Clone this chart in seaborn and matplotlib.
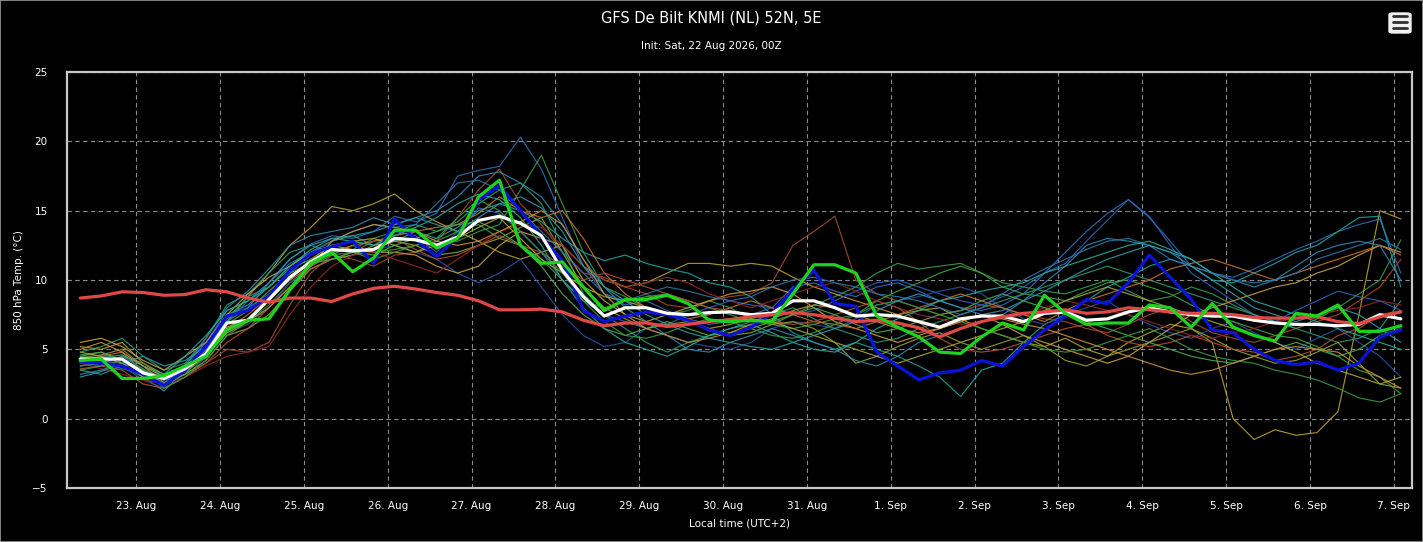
import numpy as np
import pandas as pd
import seaborn as sns
import matplotlib.dates as mdates
from matplotlib import pyplot as plt
from matplotlib.patches import FancyBboxPatch, Rectangle

# 6-hourly GFS ensemble, local time (UTC+2)
times = pd.date_range("2026-08-22 08:00", periods=64, freq="6h")

mean = [4.3, 4.3, 4.3, 3.3, 2.9, 3.6, 4.7, 6.9,
        7.1, 8.6, 10.2, 11.3, 12.2, 12.1, 12.2, 13.0,
        12.9, 12.5, 13.1, 14.3, 14.6, 14.1, 13.2, 10.7,
        8.8, 7.4, 8.0, 8.0, 7.6, 7.5, 7.65, 7.7,
        7.5, 7.6, 8.5, 8.5, 8.0, 7.4, 7.5, 7.4,
        7.0, 6.6, 7.2, 7.4, 7.4, 7.0, 7.6, 7.7,
        7.1, 7.2, 7.7, 8.0, 7.7, 7.5, 7.4, 7.4,
        7.1, 6.9, 6.8, 6.8, 6.7, 6.8, 7.5, 7.2]

control = [4.2, 4.3, 2.9, 2.9, 3.1, 3.8, 4.5, 6.4,
           7.1, 7.2, 9.3, 11.2, 12.0, 10.6, 11.6, 13.6,
           13.6, 12.3, 13.0, 16.0, 17.2, 12.5, 11.2, 11.3,
           9.5, 7.8, 8.6, 8.6, 8.9, 8.3, 7.1, 7.0,
           7.1, 7.0, 9.0, 11.1, 11.1, 10.5, 7.4, 6.6,
           5.9, 4.8, 4.7, 5.9, 6.9, 6.4, 8.9, 7.6,
           6.8, 6.9, 6.9, 8.2, 8.0, 6.6, 8.3, 6.6,
           6.0, 5.6, 7.6, 7.4, 8.2, 6.3, 6.3, 6.7]

oper = [4.1, 4.0, 3.8, 3.2, 2.4, 3.5, 5.2, 7.4,
        7.8, 8.8, 10.7, 11.9, 12.4, 12.8, 11.2, 14.4,
        12.9, 11.7, 13.1, 15.8, 16.8, 15.0, 13.1, 11.4,
        7.8, 7.0, 7.4, 7.7, 7.5, 7.1, 6.4, 6.0,
        6.6, 7.6, 9.3, 10.7, 8.3, 8.1, 4.8, 3.8,
        2.8, 3.3, 3.5, 4.2, 3.8, 5.2, 6.4, 7.4,
        8.6, 8.3, 9.8, 11.8, 10.2, 8.6, 6.4, 6.2,
        5.0, 4.2, 3.9, 4.1, 3.5, 4.0, 5.9, 6.4]

clim = [8.7, 8.85, 9.15, 9.1, 8.9, 8.95, 9.3, 9.15,
        8.7, 8.4, 8.7, 8.7, 8.45, 9.0, 9.4, 9.55,
        9.35, 9.1, 8.9, 8.5, 7.85, 7.85, 7.9, 7.7,
        7.1, 6.7, 6.9, 6.9, 6.65, 6.8, 7.0, 7.15,
        7.35, 7.5, 7.65, 7.5, 7.25, 7.0, 7.1, 6.9,
        6.55, 5.9, 6.5, 7.0, 7.35, 7.6, 7.7, 7.85,
        7.6, 7.7, 8.0, 7.85, 7.7, 7.6, 7.6, 7.5,
        7.3, 7.25, 7.25, 7.35, 7.0, 6.85, 7.35, 7.7]

members = {
    "p01": [3.8, 4.0, 4.5, 3.6, 2.8, 3.9, 5.5, 7.8, 8.5, 9.8, 11.5, 12.6, 13.2, 13.0, 13.5, 14.6,
            14.2, 14.8, 17.5, 17.9, 18.2, 20.3, 18.0, 14.5, 11.0, 9.0, 8.2, 8.5, 7.8, 7.2, 6.8, 7.0,
            7.5, 8.0, 9.5, 9.8, 9.2, 8.8, 9.5, 9.8, 9.2, 8.5, 8.0, 7.8, 8.2, 9.0, 10.5, 12.0,
            13.5, 14.8, 15.8, 14.5, 12.8, 11.0, 10.5, 10.2, 10.8, 11.5, 12.2, 12.8, 13.5, 14.0, 14.4, 10.5],
    "p02": [4.6, 4.8, 4.2, 3.5, 3.0, 3.4, 4.4, 6.5, 7.0, 8.2, 9.8, 11.0, 11.8, 12.0, 12.3, 12.8,
            13.0, 12.6, 12.8, 13.5, 14.0, 16.5, 19.0, 15.5, 12.0, 9.5, 8.8, 8.0, 7.5, 7.8, 8.5, 8.0,
            7.2, 6.8, 7.5, 8.2, 8.8, 9.5, 10.5, 11.2, 10.8, 11.0, 11.2, 10.5, 9.8, 9.5, 9.2, 9.0,
            9.5, 10.0, 9.2, 8.5, 8.8, 9.5, 9.0, 8.2, 7.5, 7.0, 6.5, 7.2, 8.0, 9.0, 10.0, 12.9],
    "p03": [4.0, 4.2, 4.0, 3.0, 2.5, 3.2, 4.0, 5.0, 4.8, 5.5, 8.2, 10.5, 11.8, 11.5, 11.0, 11.8,
            12.0, 12.8, 14.5, 16.5, 18.0, 15.5, 14.0, 12.0, 10.5, 10.2, 9.5, 9.0, 8.2, 8.0, 8.5, 8.8,
            9.0, 9.8, 12.5, 13.5, 14.6, 10.0, 9.0, 8.5, 8.0, 7.5, 7.8, 8.2, 8.0, 7.5, 7.2, 7.0,
            6.5, 6.2, 6.8, 7.5, 8.0, 7.0, 6.2, 5.8, 5.5, 6.0, 6.5, 7.0, 7.5, 8.5, 9.5, 11.5],
    "p04": [5.2, 5.0, 5.5, 4.0, 3.2, 3.8, 5.0, 7.0, 8.8, 10.5, 12.5, 13.8, 15.3, 15.0, 15.5, 16.2,
            15.0, 14.2, 13.5, 12.8, 12.0, 11.5, 12.0, 12.5, 11.0, 10.0, 9.5, 9.8, 10.5, 11.2, 11.2, 11.0,
            11.2, 11.0, 10.2, 9.5, 9.0, 8.5, 8.0, 7.5, 7.8, 8.0, 7.2, 6.5, 6.0, 5.5, 5.2, 5.8,
            5.0, 4.5, 5.5, 6.2, 6.8, 6.5, 5.5, 0.0, -1.5, -0.8, -1.2, -1.0, 0.5, 7.5, 15.0, 14.4],
    "p05": [3.5, 3.2, 3.8, 3.0, 2.0, 3.5, 5.2, 7.5, 8.2, 9.5, 11.0, 12.0, 12.8, 13.2, 12.5, 12.8,
            13.5, 13.0, 13.8, 15.0, 15.5, 15.0, 14.2, 13.0, 12.0, 11.4, 11.8, 11.2, 10.8, 10.5, 9.8, 9.5,
            8.8, 7.5, 6.2, 5.5, 5.0, 5.5, 5.0, 4.5, 3.8, 3.0, 1.6, 3.5, 4.0, 5.5, 6.8, 7.5,
            8.5, 9.5, 10.2, 11.0, 11.5, 11.0, 10.0, 9.8, 10.5, 11.2, 12.0, 12.5, 13.5, 14.5, 14.6, 9.5],
    "p06": [4.0, 3.8, 4.2, 3.2, 2.6, 3.8, 5.5, 7.5, 8.0, 9.0, 10.5, 11.8, 12.5, 12.8, 12.5, 13.5,
            13.2, 12.0, 13.5, 15.2, 14.8, 13.5, 12.0, 10.0, 8.5, 7.5, 7.0, 6.5, 6.8, 7.5, 8.0, 8.5,
            8.2, 8.0, 7.5, 7.8, 8.5, 9.2, 9.8, 10.0, 9.5, 9.0, 8.5, 8.2, 8.8, 9.5, 10.5, 11.2,
            12.8, 14.3, 15.8, 14.6, 12.5, 10.5, 9.5, 8.5, 7.5, 7.0, 7.8, 8.5, 9.2, 8.8, 8.5, 7.8],
    "p07": [4.5, 4.2, 3.8, 2.8, 2.2, 3.0, 4.5, 6.2, 6.8, 8.0, 9.8, 10.8, 11.5, 11.8, 12.2, 12.5,
            12.0, 11.5, 10.5, 9.8, 10.5, 11.5, 9.5, 7.5, 6.0, 5.2, 5.5, 6.5, 6.0, 5.5, 5.2, 5.0,
            5.5, 6.5, 7.0, 6.8, 6.5, 7.2, 8.2, 8.5, 8.8, 9.2, 9.5, 9.0, 8.0, 7.2, 6.8, 7.5,
            8.0, 8.5, 7.5, 6.8, 6.2, 5.8, 6.5, 7.0, 6.2, 5.5, 5.0, 5.8, 6.5, 5.5, 4.5, 3.0],
    "p08": [4.8, 5.2, 5.8, 4.5, 3.5, 4.0, 5.8, 8.2, 9.0, 10.5, 12.0, 12.5, 12.0, 12.2, 13.0, 13.5,
            14.0, 13.5, 14.2, 15.5, 16.5, 17.0, 15.5, 12.5, 9.0, 7.5, 6.5, 5.5, 4.8, 5.5, 6.0, 6.5,
            7.0, 7.5, 8.0, 7.2, 6.5, 6.0, 5.5, 5.8, 6.5, 7.0, 7.5, 8.0, 8.5, 9.0, 9.5, 10.0,
            10.5, 11.0, 10.5, 10.0, 9.5, 9.0, 8.5, 8.0, 7.5, 7.0, 6.5, 6.0, 5.5, 5.8, 6.5, 8.5],
    "p09": [3.8, 4.0, 4.5, 4.0, 3.0, 3.5, 5.0, 7.2, 8.8, 9.5, 10.8, 11.5, 11.8, 12.5, 12.0, 12.2,
            12.5, 12.8, 13.5, 14.0, 13.0, 12.5, 11.5, 10.0, 8.5, 8.0, 8.5, 8.8, 9.0, 8.5, 8.0, 7.5,
            7.0, 6.8, 6.5, 6.8, 7.2, 7.5, 8.5, 9.2, 9.8, 10.5, 11.0, 10.5, 9.5, 9.0, 8.8, 8.5,
            9.2, 9.8, 10.0, 9.5, 9.0, 8.2, 7.5, 7.0, 6.5, 6.0, 5.8, 5.2, 4.5, 3.5, 3.0, 1.8],
    "p10": [4.4, 4.6, 5.0, 3.8, 2.6, 3.2, 4.2, 6.0, 6.5, 7.5, 9.2, 10.8, 11.5, 11.8, 12.5, 12.8,
            12.5, 11.8, 12.0, 12.5, 13.0, 13.8, 14.5, 12.0, 9.5, 8.0, 7.2, 6.5, 6.8, 7.0, 6.5, 6.0,
            6.2, 6.8, 7.0, 6.5, 5.5, 4.0, 4.5, 5.2, 5.8, 6.2, 5.5, 5.0, 5.5, 6.0, 5.2, 4.2,
            3.8, 4.5, 5.0, 5.5, 6.0, 6.5, 5.8, 5.0, 4.5, 4.0, 4.2, 4.8, 5.5, 4.0, 2.5, 2.2],
    "p11": [5.5, 5.8, 5.2, 4.2, 3.5, 4.5, 5.5, 7.5, 9.0, 10.2, 11.0, 12.0, 12.5, 12.2, 12.0, 12.0,
            11.8, 11.0, 10.5, 11.0, 12.5, 13.5, 13.0, 12.5, 10.0, 8.5, 7.5, 7.0, 7.5, 8.0, 8.5, 9.0,
            9.2, 9.5, 9.0, 8.0, 7.0, 6.5, 6.0, 5.5, 6.0, 6.5, 7.0, 7.5, 6.8, 6.0, 5.5, 5.0,
            4.5, 4.0, 4.5, 5.5, 6.5, 7.5, 8.0, 8.5, 9.0, 9.5, 9.8, 10.5, 11.0, 11.8, 12.5, 12.0],
    "p12": [4.2, 4.5, 4.8, 3.4, 2.8, 3.5, 4.5, 6.5, 7.5, 8.8, 10.0, 11.0, 12.0, 12.5, 12.8, 13.2,
            13.5, 13.8, 14.0, 14.8, 16.0, 15.0, 14.5, 15.0, 13.0, 10.5, 9.0, 8.0, 7.5, 7.2, 7.5, 8.0,
            8.5, 8.0, 7.5, 7.0, 6.8, 6.5, 7.0, 7.5, 8.0, 8.5, 9.0, 8.5, 8.0, 7.5, 7.0, 7.8,
            8.5, 9.0, 9.5, 10.0, 10.8, 11.2, 11.5, 11.0, 10.5, 10.0, 10.5, 11.0, 11.5, 12.0, 12.5, 11.8],
    "p13": [3.6, 3.8, 3.5, 2.5, 2.2, 3.0, 4.0, 5.5, 6.5, 8.0, 9.5, 10.8, 11.5, 12.0, 12.8, 13.0,
            12.2, 11.5, 11.8, 12.5, 13.2, 12.5, 12.0, 11.0, 10.0, 10.5, 10.0, 9.5, 9.0, 8.5, 8.0, 7.8,
            7.5, 7.0, 6.8, 7.0, 7.5, 8.0, 8.5, 8.0, 7.0, 5.8, 5.0, 4.8, 5.0, 5.5, 6.0, 6.5,
            6.8, 6.0, 5.5, 5.2, 5.5, 6.0, 5.5, 5.0, 4.8, 4.2, 4.5, 5.0, 6.0, 6.5, 7.5, 7.8],
    "p14": [4.0, 3.6, 3.2, 2.8, 2.5, 3.0, 3.8, 4.5, 4.8, 5.2, 7.5, 9.5, 11.0, 11.8, 12.0, 11.5,
            11.0, 10.5, 11.5, 12.5, 13.5, 14.0, 13.8, 12.5, 11.0, 10.0, 9.5, 9.8, 10.2, 9.8, 9.0, 8.5,
            8.0, 8.5, 9.0, 9.5, 9.8, 9.2, 8.5, 8.0, 7.5, 7.2, 6.8, 7.0, 7.2, 7.5, 8.0, 8.5,
            8.2, 7.8, 7.5, 7.0, 6.5, 6.0, 5.8, 6.2, 6.5, 7.0, 7.2, 7.5, 7.8, 8.0, 8.5, 8.2],
    "p15": [3.2, 3.5, 4.0, 3.5, 2.5, 3.8, 5.8, 8.0, 9.2, 10.8, 12.5, 13.2, 13.5, 13.8, 14.5, 14.0,
            14.5, 15.0, 16.0, 17.5, 17.8, 17.0, 16.0, 14.0, 11.5, 9.5, 8.0, 7.0, 6.0, 5.0, 4.8, 5.5,
            6.0, 6.5, 6.0, 5.5, 5.0, 4.2, 3.8, 4.5, 5.5, 6.0, 6.5, 7.0, 7.5, 8.5, 9.8, 11.0,
            12.5, 13.0, 12.8, 12.5, 12.0, 11.5, 10.5, 10.0, 9.5, 10.0, 11.0, 12.0, 12.5, 12.8, 12.5, 10.0],
    "p16": [4.5, 4.8, 4.2, 3.2, 2.4, 3.2, 4.8, 6.8, 7.8, 9.2, 10.5, 11.2, 11.5, 12.0, 11.8, 12.5,
            13.0, 13.5, 14.0, 14.2, 13.5, 12.5, 11.0, 9.0, 7.5, 6.5, 6.0, 6.5, 7.0, 6.5, 6.0, 6.2,
            6.5, 7.0, 7.5, 8.0, 7.5, 6.8, 6.2, 6.5, 7.0, 7.5, 7.8, 8.5, 9.0, 8.5, 8.0, 7.5,
            7.0, 6.5, 6.0, 5.5, 5.0, 4.5, 4.2, 4.0, 4.5, 5.0, 5.5, 5.0, 4.5, 5.0, 6.0, 6.5],
    "p17": [4.8, 4.5, 4.0, 3.0, 2.8, 3.6, 4.6, 6.6, 7.2, 8.5, 10.0, 11.5, 12.5, 12.8, 13.0, 12.5,
            12.0, 12.5, 13.0, 13.8, 14.5, 13.0, 11.5, 10.5, 9.5, 8.8, 8.5, 8.0, 7.5, 7.0, 6.5, 6.8,
            7.2, 7.0, 6.5, 6.0, 5.5, 5.0, 4.5, 4.0, 4.5, 5.0, 5.5, 6.0, 6.5, 7.0, 7.8, 8.5,
            9.0, 9.5, 9.0, 8.5, 8.0, 7.5, 7.0, 6.5, 6.0, 5.5, 4.8, 4.0, 3.5, 3.0, 2.5, 3.0],
    "p18": [3.8, 4.0, 3.6, 3.2, 2.8, 3.4, 5.0, 7.0, 8.5, 9.8, 11.2, 12.0, 12.8, 13.5, 14.0, 13.8,
            14.0, 15.5, 17.0, 17.2, 16.5, 15.0, 13.5, 12.0, 10.5, 9.0, 8.5, 9.0, 9.5, 9.2, 8.8, 8.5,
            8.8, 9.5, 10.0, 10.2, 9.8, 9.5, 9.0, 8.8, 8.5, 8.0, 7.5, 8.0, 9.0, 10.0, 10.8, 11.5,
            12.2, 12.8, 13.0, 12.5, 11.5, 11.0, 10.5, 10.0, 9.8, 10.0, 10.5, 11.5, 12.0, 12.5, 13.0, 12.2],
    "p19": [4.2, 4.4, 4.6, 3.8, 3.2, 4.5, 6.0, 7.8, 8.5, 9.5, 11.0, 12.2, 13.0, 12.8, 12.5, 13.2,
            13.8, 14.5, 15.5, 16.2, 15.8, 14.5, 12.5, 10.0, 8.0, 6.5, 5.5, 5.0, 4.5, 5.2, 6.0, 6.5,
            6.8, 6.2, 5.5, 5.0, 4.8, 5.5, 6.5, 7.2, 7.8, 8.5, 8.8, 9.2, 9.5, 9.8, 10.5, 11.0,
            11.5, 12.0, 12.5, 12.8, 12.2, 11.5, 10.5, 9.5, 8.5, 8.0, 7.5, 7.0, 6.5, 6.0, 5.5, 5.0],
    "p20": [3.5, 3.8, 4.2, 3.6, 2.2, 3.0, 4.2, 6.0, 7.0, 8.5, 10.2, 11.5, 12.2, 12.0, 11.5, 12.0,
            12.5, 13.0, 14.5, 15.8, 15.0, 13.5, 12.0, 10.5, 8.5, 7.0, 6.0, 5.8, 6.2, 6.8, 7.2, 7.0,
            6.5, 6.0, 5.8, 6.2, 6.8, 7.5, 8.2, 8.5, 8.0, 7.5, 7.0, 6.5, 6.0, 5.5, 5.0, 4.8,
            5.0, 5.5, 6.0, 6.5, 5.8, 5.0, 4.5, 4.2, 4.0, 3.5, 3.2, 2.8, 2.2, 1.5, 1.2, 1.8],
    "p21": [5.0, 5.5, 4.8, 3.8, 3.0, 3.5, 4.5, 6.2, 7.0, 8.0, 9.5, 11.0, 12.8, 13.5, 14.0, 13.8,
            13.5, 12.8, 12.5, 12.8, 13.5, 14.2, 15.0, 14.0, 11.5, 9.0, 7.5, 6.5, 6.0, 5.5, 5.8, 6.2,
            6.8, 7.2, 7.8, 8.2, 8.0, 7.5, 7.0, 6.5, 6.2, 6.5, 7.0, 7.5, 7.2, 6.8, 6.5, 6.0,
            5.5, 5.0, 4.5, 4.0, 3.5, 3.2, 3.5, 4.0, 4.5, 5.0, 5.2, 5.0, 4.8, 3.8, 3.0, 2.2],
    "p22": [3.0, 3.4, 4.0, 4.5, 3.8, 4.2, 5.2, 7.0, 8.0, 9.8, 11.5, 12.5, 13.0, 13.2, 13.5, 14.0,
            14.5, 14.0, 13.5, 14.5, 15.5, 16.0, 15.2, 13.5, 11.0, 9.5, 8.5, 7.5, 6.8, 6.2, 5.8, 5.5,
            5.2, 5.0, 5.5, 6.0, 6.5, 7.0, 7.8, 8.5, 9.0, 8.5, 8.0, 7.5, 7.8, 8.5, 9.2, 10.0,
            10.8, 11.5, 12.0, 12.5, 12.0, 11.0, 10.0, 9.0, 8.0, 7.5, 7.0, 7.5, 8.0, 7.5, 6.5, 5.5],
}

member_colors = ["#2f6db5", "#3a9a4a", "#a04a28", "#b8a030", "#20a0a0", "#3060c0",
                 "#2850a0", "#2a9a70", "#40a040", "#90a030", "#c8a040", "#c87030",
                 "#b05030", "#902828", "#3088b0", "#50a850", "#a8a838", "#2878a8",
                 "#28a898", "#389840", "#c89038", "#3098a8"]

ens = pd.DataFrame([(name, t, v) for name, vals in members.items()
                    for t, v in zip(times, vals)], columns=["member", "time", "temp"])

sns.set_style("dark", {"axes.facecolor": "black", "figure.facecolor": "black"})
plt.rcParams["font.family"] = ["DejaVu Sans"]

fig = plt.figure(figsize=(14.23, 5.42), dpi=100)
fig.patch.set_facecolor("black")
ax = fig.add_axes([0.0471, 0.0996, 0.9451, 0.7675])
ax.set_facecolor("black")

sns.lineplot(data=ens, x="time", y="temp", hue="member", palette=member_colors,
             estimator=None, linewidth=0.85, alpha=0.9, legend=False, ax=ax)
sns.lineplot(x=times, y=oper, color="#0a14d8", linewidth=2.3, ax=ax)
sns.lineplot(x=times, y=mean, color="white", linewidth=2.3, ax=ax)
sns.lineplot(x=times, y=clim, color="#e04848", linewidth=2.3, ax=ax)
sns.lineplot(x=times, y=control, color="#1ed21e", linewidth=2.3, ax=ax)

ax.set_ylim(-5, 25)
ax.set_yticks(range(-5, 26, 5))
ax.set_xlim(pd.Timestamp("2026-08-22 04:13"), pd.Timestamp("2026-09-07 05:10"))
ax.xaxis.set_major_locator(mdates.DayLocator())
ax.xaxis.set_major_formatter(plt.FuncFormatter(
    lambda v, p: mdates.num2date(v).strftime("%d. %b").lstrip("0")))

ax.grid(True, color="#8a8a8a", linestyle=(0, (4, 3)), linewidth=0.8)
for s in ax.spines.values():
    s.set_visible(True)
    s.set_color("#c8c8c8")
    s.set_linewidth(1.6)

ax.tick_params(axis="x", colors="#8a8a8a", labelcolor="white", length=6, width=0.8,
               labelsize=7.5, pad=3, direction="out")
ax.tick_params(axis="y", colors="white", length=0, labelsize=7.5, pad=14)
for lab in ax.get_yticklabels():
    lab.set_horizontalalignment("right")

ax.set_xlabel("Local time (UTC+2)", color="white", fontsize=7.5, labelpad=6)
ax.set_ylabel("850 hPa Temp. (°C)", color="white", fontsize=7.5, labelpad=6)

fig.text(0.5, 0.967, "GFS De Bilt KNMI (NL) 52N, 5E", color="white", fontsize=10.5,
         ha="center", va="center")
fig.text(0.5, 0.915, "Init: Sat, 22 Aug 2026, 00Z", color="white", fontsize=7.5,
         ha="center", va="center")

# export menu button
fig.patches.append(FancyBboxPatch((1389 / 1423, 1 - 33 / 542), 22 / 1423, 20 / 542,
                                  boxstyle="round,pad=0,rounding_size=0.003",
                                  transform=fig.transFigure, facecolor="#f0f0f0",
                                  edgecolor="#f0f0f0"))
for yy in (16, 22, 28):
    fig.lines.append(plt.Line2D([1393 / 1423, 1407 / 1423], [1 - yy / 542] * 2,
                                transform=fig.transFigure, color="#303030", linewidth=2))
fig.patches.append(Rectangle((0, 0), 1, 1, transform=fig.transFigure, fill=False,
                             edgecolor="#9a9a9a", linewidth=1.2))

fig.savefig("out.png", dpi=100, facecolor="black")
